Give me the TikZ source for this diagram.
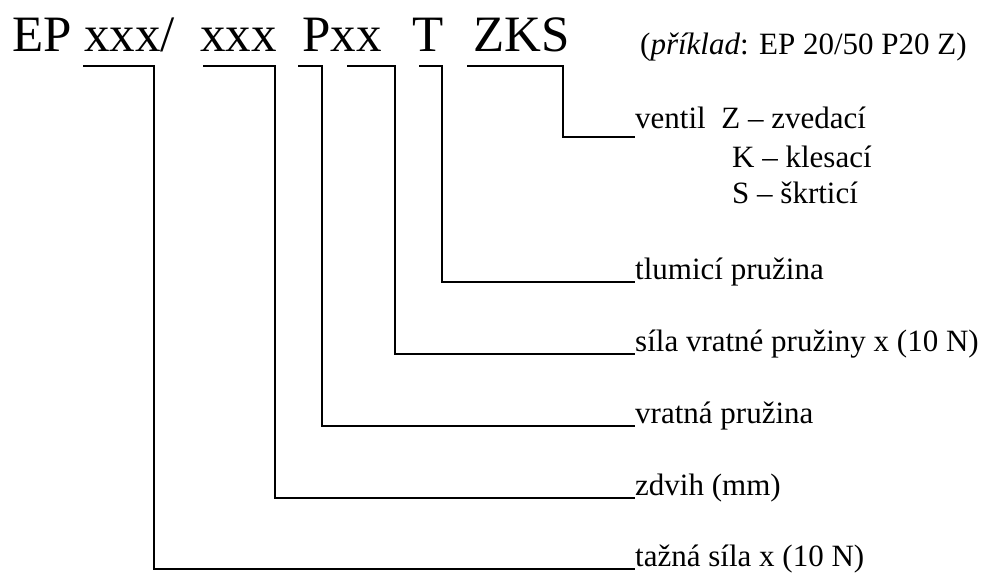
\documentclass[tikz,border=0pt]{standalone}
\usepackage{fontspec}
\setmainfont{Liberation Serif}
\begin{document}
\begin{tikzpicture}[x=1pt,y=-1pt]
  \tikzstyle{code}=[anchor=base west,inner sep=0pt,font=\fontsize{51}{60}\selectfont]
  \tikzstyle{popis}=[anchor=south west,inner sep=0pt,text depth=2pt,font=\fontsize{31}{37}\selectfont]
  \tikzstyle{vodic}=[draw,line width=1.4pt]
  \useasboundingbox (0,0) rectangle (992,575);
  % kod
  \node[code] (EP)  at (12,52)  {EP xxx/};
  \node[code] (XXX) at (200,52) {xxx};
  \node[code] (PXX) at (302,52) {Pxx};
  \node[code] (T)   at (412,52) {T};
  \node[code] (ZKS) at (473,52) {ZKS};
  \node[popis,anchor=base west] (PR) at (640,55) {(\textit{příklad}: EP 20/50 P20 Z)};
  % popisy
  \node[popis,text depth=8pt] (VE) at (635,137) {ventil\ \ Z -- zvedací};
  \node[popis,anchor=base west] (KL) at (732,167) {K -- klesací};
  \node[popis,anchor=base west] (SK) at (732,203) {S -- škrticí};
  \node[popis] (TL) at (635,282) {tlumicí pružina};
  \node[popis] (SV) at (635,354) {síla vratné pružiny x (10 N)};
  \node[popis] (VP) at (635,426) {vratná pružina};
  \node[popis] (ZD) at (635,498) {zdvih (mm)};
  \node[popis] (TS) at (635,569) {tažná síla x (10 N)};
  % podtrzeni
  \coordinate (A1) at (83,66);  \coordinate (A2) at (154,66);
  \coordinate (B1) at (203,66); \coordinate (B2) at (275,66);
  \coordinate (C1) at (298,66); \coordinate (C2) at (322,66);
  \coordinate (D1) at (347,66); \coordinate (D2) at (395,66);
  \coordinate (E1) at (419,66); \coordinate (E2) at (442,66);
  \coordinate (F1) at (467,66); \coordinate (F2) at (563,66);
  \path[vodic] (A1) -- (A2) |- (TS.south west);
  \path[vodic] (B1) -- (B2) |- (ZD.south west);
  \path[vodic] (C1) -- (C2) |- (VP.south west);
  \path[vodic] (D1) -- (D2) |- (SV.south west);
  \path[vodic] (E1) -- (E2) |- (TL.south west);
  \path[vodic] (F1) -- (F2) |- (VE.south west);
\end{tikzpicture}
\end{document}
